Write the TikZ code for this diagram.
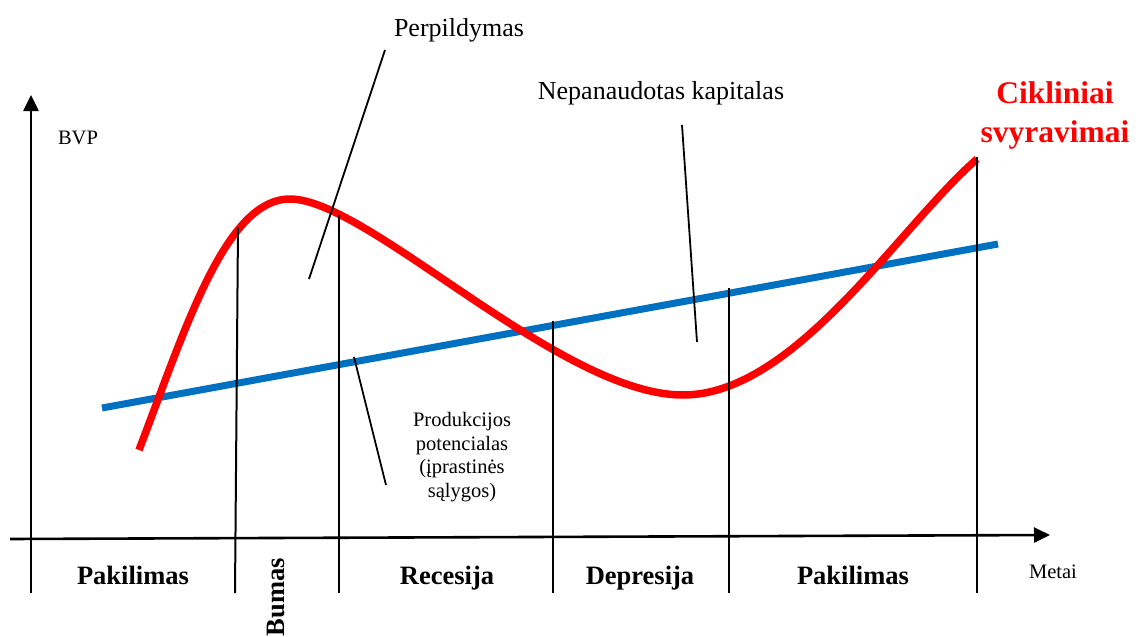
\documentclass[tikz,border=0pt]{standalone}
\usepackage{fontspec}
\setmainfont{Liberation Serif}
\usetikzlibrary{arrows.meta}
\definecolor{curvered}{RGB}{255,0,0}
\definecolor{potblue}{RGB}{0,112,192}
\tikzset{
  axisline/.style={line width=2.6pt,-{Triangle[length=16pt,width=15pt]}},
  divider/.style={line width=2pt},
  pointer/.style={line width=1.8pt},
  smalltxt/.style={inner sep=0pt,font=\fontsize{20.5}{23.5}\selectfont},
  midtxt/.style={inner sep=0pt,font=\fontsize{26}{30}\selectfont},
  phasetxt/.style={inner sep=0pt,font=\fontsize{26.5}{30}\selectfont\bfseries},
  redtxt/.style={inner sep=0pt,text=curvered,font=\fontsize{31.5}{39}\selectfont\bfseries},
  cyclecurve/.style={line width=7.5pt,color=curvered},
  potline/.style={line width=7pt,color=potblue}
}
\begin{document}
\begin{tikzpicture}[x=1pt,y=-1pt]
\useasboundingbox (0,0) rectangle (1144,637);
% axes
\coordinate (ybot) at (31,593);
\coordinate (ytop) at (31,95);
\coordinate (xleft) at (10,539);
\coordinate (xright) at (1050,535);
\draw[axisline] (ybot) -- (ytop);
\draw[axisline] (xleft) -- (xright);
% potential line
\coordinate (bl1) at (102,408);
\coordinate (bl2) at (998,244);
\draw[potline] (bl1) -- (bl2);
% cyclic curve
\coordinate (c0) at (139,450);
\coordinate (cpeak) at (290,199);
\coordinate (cmin) at (683,395);
\coordinate (cend) at (977,159);
\draw[cyclecurve] (c0) .. controls (185,330) and (225,199) .. (cpeak)
  .. controls (368,199) and (560,395) .. (cmin)
  .. controls (795,395) and (898,228) .. (cend);
% dividers
\coordinate (d1t) at (238,227); \coordinate (d1b) at (235,593);
\coordinate (d2t) at (339,215); \coordinate (d2b) at (339,593);
\coordinate (d3t) at (553,321); \coordinate (d3b) at (553,593);
\coordinate (d4t) at (729,288); \coordinate (d4b) at (729,593);
\coordinate (d5t) at (977,157); \coordinate (d5b) at (977,593);
\draw[divider] (d1t) -- (d1b);
\draw[divider] (d2t) -- (d2b);
\draw[divider] (d3t) -- (d3b);
\draw[divider] (d4t) -- (d4b);
\draw[divider] (d5t) -- (d5b);
% labels
\node[midtxt,anchor=base] (perp) at (459,36) {Perpildymas};
\node[midtxt,anchor=base] (nepan) at (661,99) {Nepanaudotas kapitalas};
\node[smalltxt,anchor=base] (bvp) at (78,144) {BVP};
\node[smalltxt,anchor=base] (metai) at (1053,578) {Metai};
\node[smalltxt,align=center] (prod) at (462,457) {Produkcijos\\potencialas\\(įprastinės\\sąlygos)};
\node[redtxt,anchor=base] (cikl1) at (1055,103) {Cikliniai};
\node[redtxt,anchor=base] (cikl2) at (1055,142) {svyravimai};
% phases
\node[phasetxt,anchor=base] (ph1) at (133,584) {Pakilimas};
\node[phasetxt,rotate=90] (ph2) at (276,597) {Bumas};
\node[phasetxt,anchor=base] (ph3) at (447,584) {Recesija};
\node[phasetxt,anchor=base] (ph4) at (640,584) {Depresija};
\node[phasetxt,anchor=base] (ph5) at (853,584) {Pakilimas};
% pointers
\coordinate (p1a) at (385,50); \coordinate (p1b) at (309,279);
\coordinate (p2a) at (682,125); \coordinate (p2b) at (697,342);
\coordinate (p3a) at (354,357); \coordinate (p3b) at (386,485);
\draw[pointer] (p1a) -- (p1b);
\draw[pointer] (p2a) -- (p2b);
\draw[pointer] (p3a) -- (p3b);
\end{tikzpicture}
\end{document}
